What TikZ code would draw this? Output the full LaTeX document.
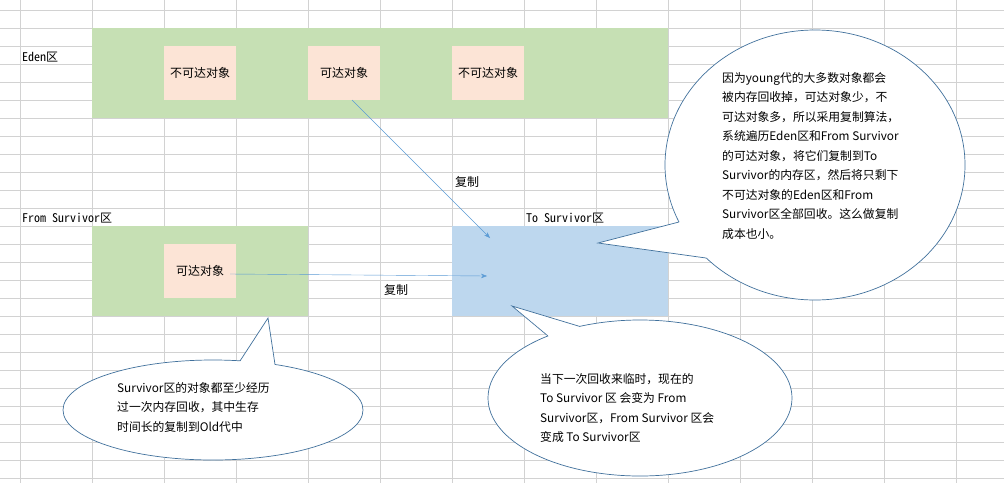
\documentclass[tikz,border=0pt]{standalone}
\usepackage{fontspec}
\usetikzlibrary{arrows.meta,calc}
\setmainfont{Noto Sans CJK SC}
\newfontfamily\monocjk{Noto Sans Mono CJK SC}
\definecolor{grnc}{RGB}{198,224,180}
\definecolor{bluc}{RGB}{189,215,238}
\definecolor{pinkc}{RGB}{252,228,214}
\definecolor{arrc}{RGB}{91,155,213}
\definecolor{cl}{RGB}{65,113,156}
\begin{document}
\begin{tikzpicture}[x=1pt,y=-1pt,
  pinkbox/.style={fill=pinkc, draw=none, minimum width=72pt, minimum height=54pt, inner sep=0pt, font=\fontsize{12}{14}\selectfont},
  arr/.style={draw=arrc, -{Stealth[length=6pt]}, thin},
  lab/.style={font=\fontsize{12}{14}\selectfont, anchor=west, inner sep=0pt},
  mono/.style={font=\monocjk\fontsize{12}{14}\selectfont, anchor=west, inner sep=0pt},
  ctext/.style={font=\fontsize{11.8}{19.5}\selectfont, align=left, anchor=north west, inner sep=0pt}]
\useasboundingbox (0,0) rectangle (1004,483);
\fill[white] (0,0) rectangle (1004,483);
\foreach \x in {20,92,...,1004} \draw[gray!35] (\x,0) -- (\x,483);
\foreach \y in {10,28,...,483} \draw[gray!35] (0,\y) -- (1004,\y);
% regions
\fill[grnc] (92,28) rectangle (668,118);
\fill[grnc] (92,226) rectangle (308,316);
\fill[bluc] (452,226) rectangle (668,316);
\node[pinkbox] (u1) at (200,73) {不可达对象};
\node[pinkbox] (r1) at (344,73) {可达对象};
\node[pinkbox] (u2) at (488,73) {不可达对象};
\node[pinkbox] (r2) at (200,271) {可达对象};
\node[mono] (eden) at (22,57) {Eden区};
\node[mono] (from) at (22,218) {From Survivor区};
\node[mono] (to) at (526,218) {To Survivor区};
\coordinate (t1) at (490,238);
\coordinate (t2) at (487,276);
\draw[arr] (352,100) -- (t1);
\draw[arr] (230,274) -- (t2);
\node[lab] (c1) at (455,182) {复制};
\node[lab] (c2) at (384,290) {复制};
% callouts
\foreach \cx/\cy/\rx/\ry/\ax/\ay/\bx/\by/\tx/\ty in {815/165/150/135/679/222/706/258/598/243, 213/410/150/50/240/361/275/364.5/268/318, 640/398/152/78/548/336/580/326.5/512/306}{
  \fill[white] (\cx,\cy) ellipse [x radius=\rx, y radius=\ry];
  \draw[draw=cl, line width=0.7pt] (\cx,\cy) ellipse [x radius=\rx, y radius=\ry];
  \fill[white] (\ax,\ay) -- (\tx,\ty) -- (\bx,\by) -- (\cx,\cy) -- cycle;
  \draw[draw=cl, line width=0.7pt] (\ax,\ay) -- (\tx,\ty) -- (\bx,\by);
}
\node[ctext] (n1) at (722,72) {因为young代的大多数对象都会\\被内存回收掉，可达对象少，不\\可达对象多，所以采用复制算法，\\系统遍历Eden区和From Survivor\\的可达对象，将它们复制到To\\Survivor的内存区，然后将只剩下\\不可达对象的Eden区和From\\Survivor区全部回收。这么做复制\\成本也小。};
\node[ctext] (n2) at (117,382) {Survivor区的对象都至少经历\\过一次内存回收，其中生存\\时间长的复制到Old代中};
\node[ctext] (n3) at (540,373) {当下一次回收来临时，现在的\\To Survivor 区 会变为 From\\Survivor区，From Survivor 区会\\变成 To Survivor区};
\end{tikzpicture}
\end{document}
